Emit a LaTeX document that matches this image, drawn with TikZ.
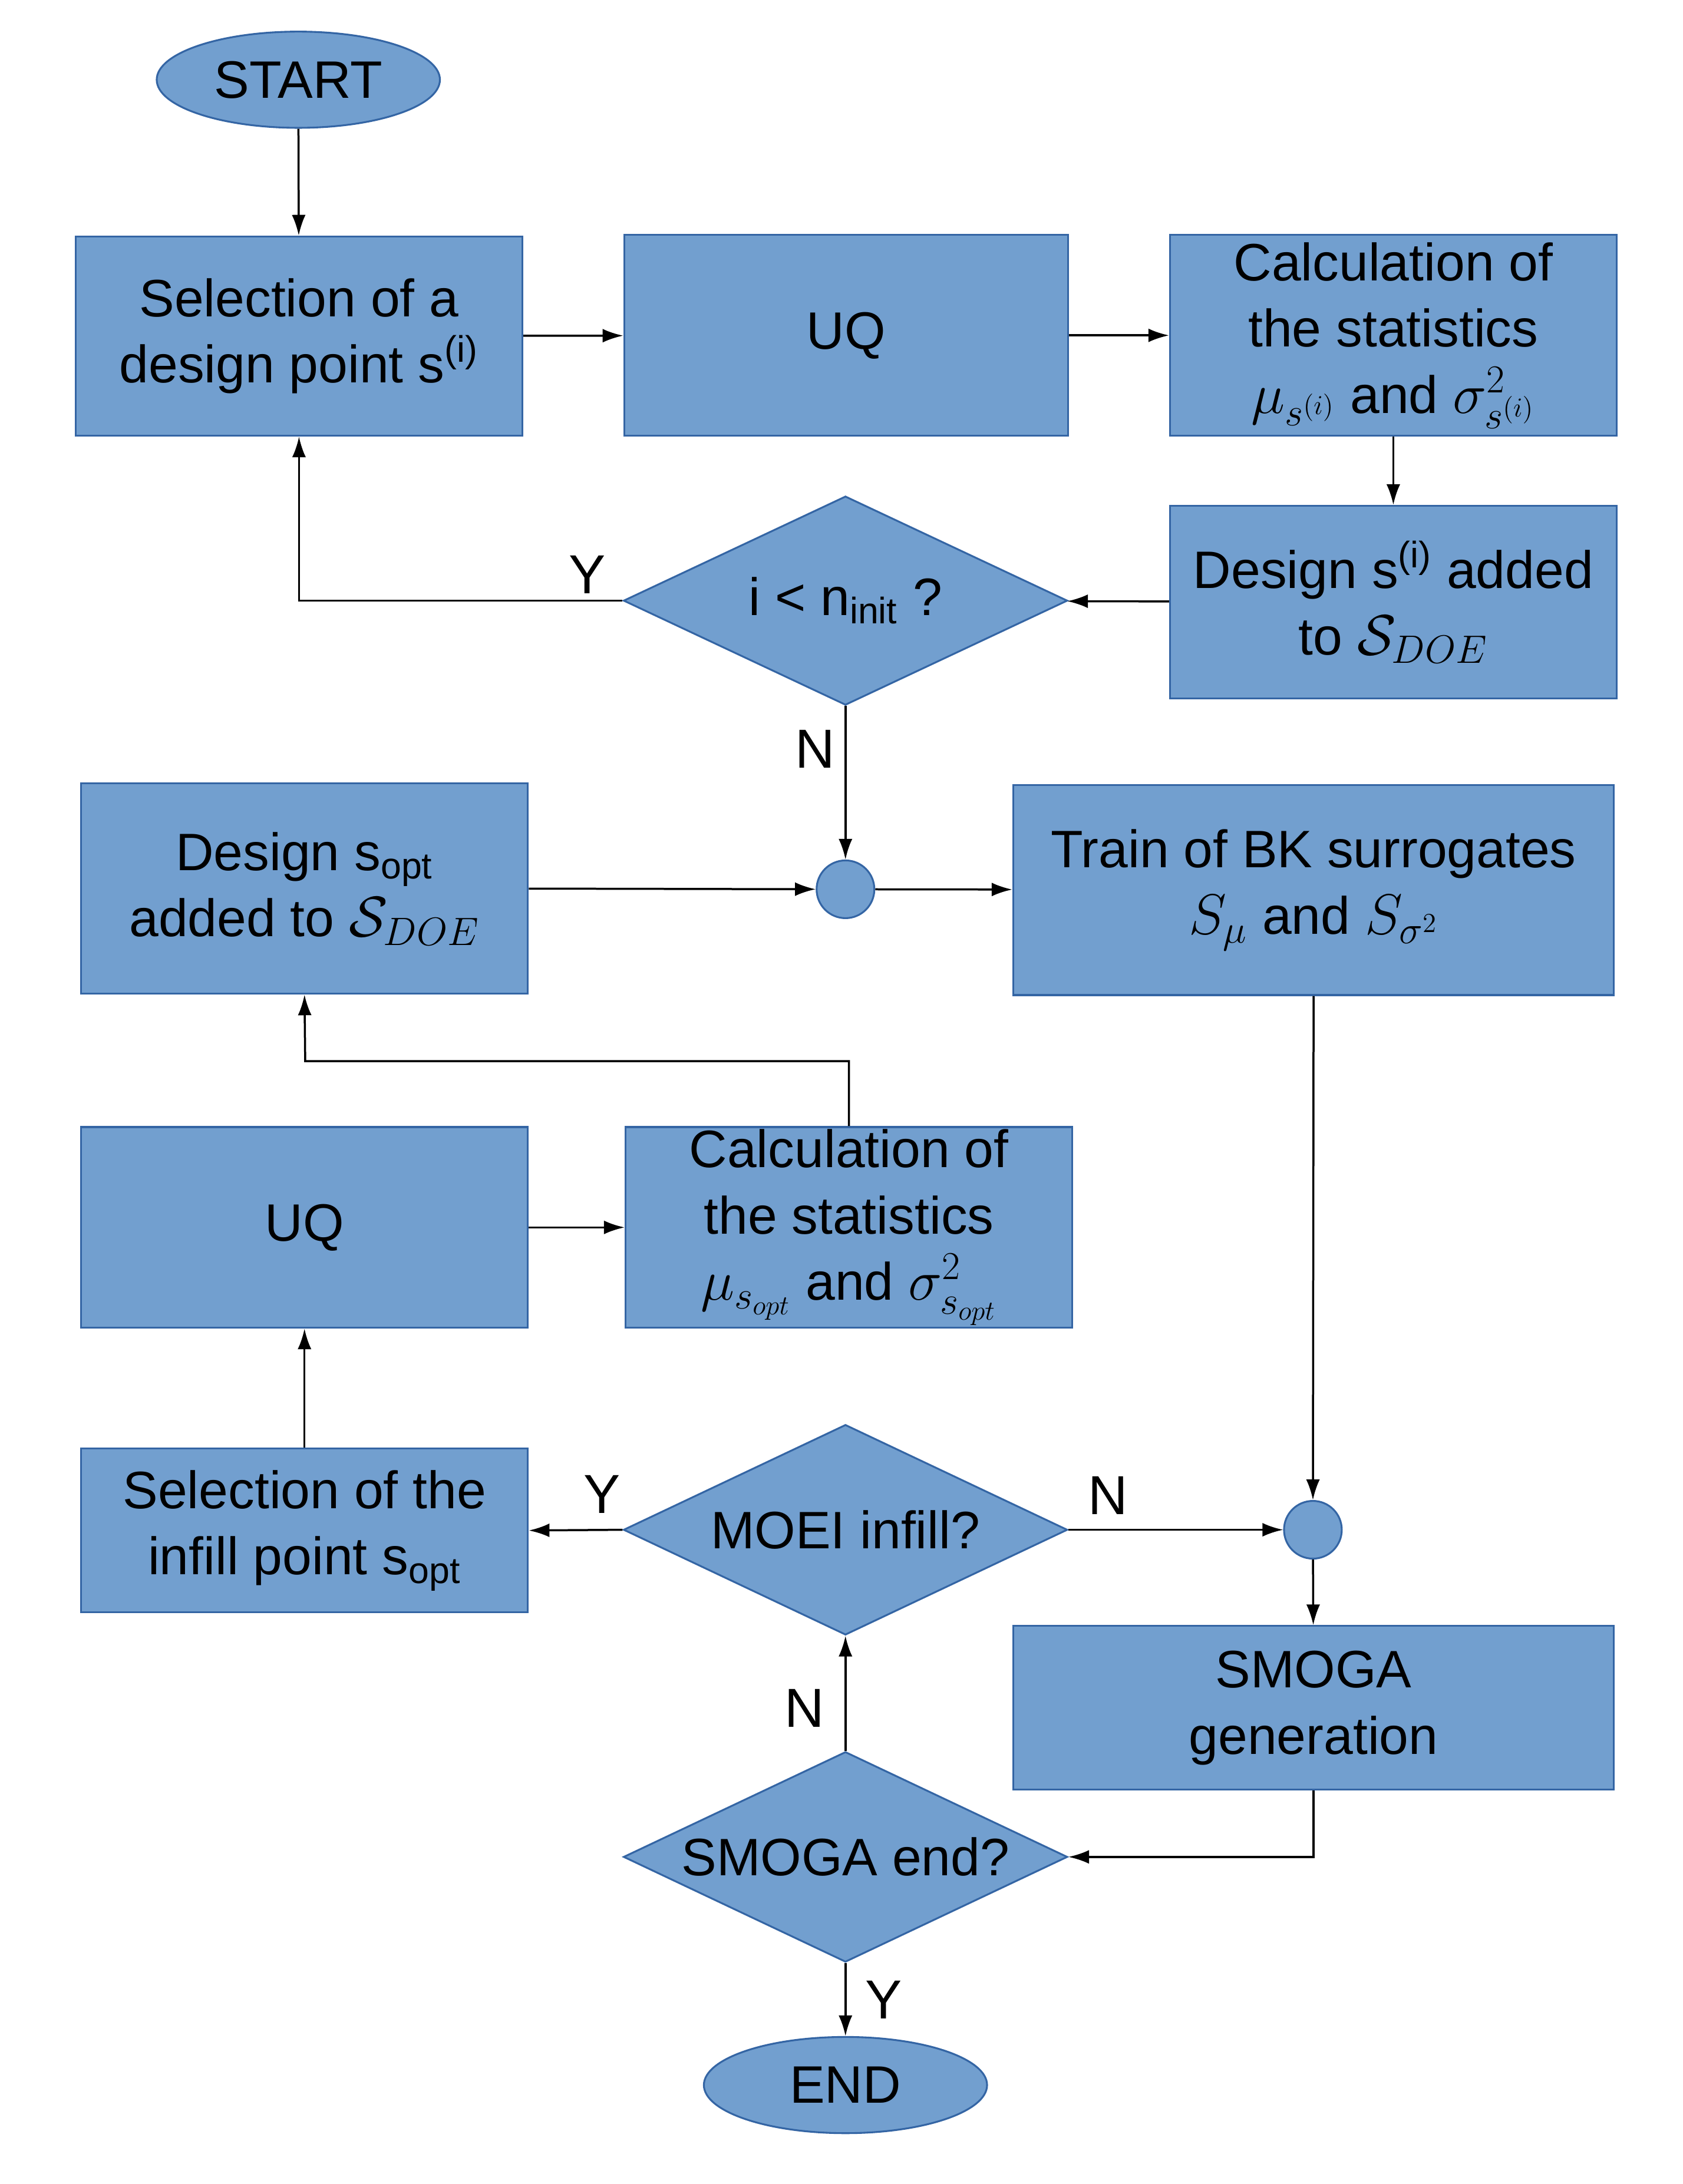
\documentclass[tikz,border=0pt]{standalone}
\usepackage{fontspec}
\setmainfont{Liberation Sans}
\usetikzlibrary{shapes.geometric,arrows.meta}
\definecolor{fillb}{HTML}{729FCF}
\definecolor{edgeb}{HTML}{3465A4}
\begin{document}
\begin{tikzpicture}[x=0.6pt,y=-0.6pt,
  every node/.style={font=\fontsize{23}{29}\selectfont, text=black, inner sep=0pt, align=center},
  blk/.style={draw=edgeb, fill=fillb, line width=0.8pt},
  arr/.style={-{Latex[length=9pt,width=6pt]}, line width=0.9pt},
  ln/.style={line width=0.9pt},
  lbl/.style={font=\fontsize{24}{29}\selectfont}]
\useasboundingbox (0,0) rectangle (1224,1589);
\newcommand{\bx}[6]{\node[blk, minimum width=#4*0.6pt, minimum height=#5*0.6pt] (#1) at (#2,#3) {#6};}
\newcommand{\dm}[4]{\node[blk, diamond, minimum width=323*0.6pt, minimum height=153*0.6pt, aspect=2.1] (#1) at (#2,#3) {#4};}
\node[blk, ellipse, minimum width=206*0.6pt, minimum height=70*0.6pt] (start) at (217,58) {START};
\bx{sel}{217.5}{244.5}{325}{145}{Selection of a\\design point s\textsuperscript{(i)}}
\bx{uq}{615.5}{244}{323}{146}{UQ}
\bx{calc}{1013.5}{244}{325}{146}{Calculation of\\the statistics\\$\mu_{s^{(i)}}$ and $\sigma^2_{s^{(i)}}$}
\bx{add}{1013.5}{438}{325}{140}{Design s\textsuperscript{(i)} added\\to $\mathcal{S}_{DOE}$}
\node[blk, diamond, minimum width=323*0.6pt, minimum height=152*0.6pt, aspect=2.12, inner sep=0pt] (d1) at (615,437) {};
\node at (d1) {i < n\textsubscript{init} ?};
\node[blk, circle, minimum size=42*0.6pt] (c1) at (615,647) {};
\bx{dopt}{221.5}{646.5}{325}{153}{Design s\textsubscript{opt}\\added to $\mathcal{S}_{DOE}$}
\bx{train}{955.5}{647.5}{437}{153}{Train of BK surrogates\\$S_\mu$ and $S_{\sigma^2}$}
\bx{uq2}{221.5}{893}{325}{146}{UQ}
\bx{calc2}{617.5}{893}{325}{146}{Calculation of\\the statistics\\$\mu_{s_{opt}}$ and $\sigma^2_{s_{opt}}$}
\bx{inf}{221.5}{1113.5}{325}{119}{Selection of the\\infill point s\textsubscript{opt}}
\node[blk, diamond, minimum width=323*0.6pt, minimum height=153*0.6pt, aspect=2.1] (d2) at (615,1113) {};
\node at (d2) {MOEI infill?};
\node[blk, circle, minimum size=42*0.6pt] (c2) at (955,1113) {};
\bx{smoga}{955.5}{1242.5}{437}{119}{SMOGA\\generation}
\node[blk, diamond, minimum width=323*0.6pt, minimum height=153*0.6pt, aspect=2.1] (d3) at (615,1351) {};
\node at (d3) {SMOGA end?};
\node[blk, ellipse, minimum width=206*0.6pt, minimum height=70*0.6pt] (end) at (615,1517) {END};
\draw[arr] (start) -- (sel);
\draw[arr] (sel) -- (uq);
\draw[arr] (uq) -- (calc);
\draw[arr] (calc) -- (add);
\draw[arr] (add) -- (d1);
\draw[arr] (d1.west) -| (sel.south);
\node[lbl] at (427,418) {Y};
\draw[arr] (d1.south) -- (c1);
\node[lbl] at (593,545) {N};
\draw[arr] (dopt.east) -- (c1);
\draw[arr] (c1) -- (train);
\draw[arr] (calc2.north) |- (222,772) -- (dopt.south);
\draw[arr] (uq2) -- (calc2);
\draw[arr] (inf) -- (uq2);
\draw[arr] (d2.west) -- (inf.east);
\node[lbl] at (438,1087) {Y};
\draw[arr] (d2.east) -- (c2);
\node[lbl] at (806,1088) {N};
\draw[arr] (train.south) -- (c2);
\draw[arr] (c2) -- (smoga);
\draw[arr] (smoga.south) |- (d3.east);
\draw[arr] (d3.north) -- (d2.south);
\node[lbl] at (585,1243) {N};
\draw[arr] (d3.south) -- (end);
\node[lbl] at (643,1455) {Y};
\end{tikzpicture}
\end{document}
